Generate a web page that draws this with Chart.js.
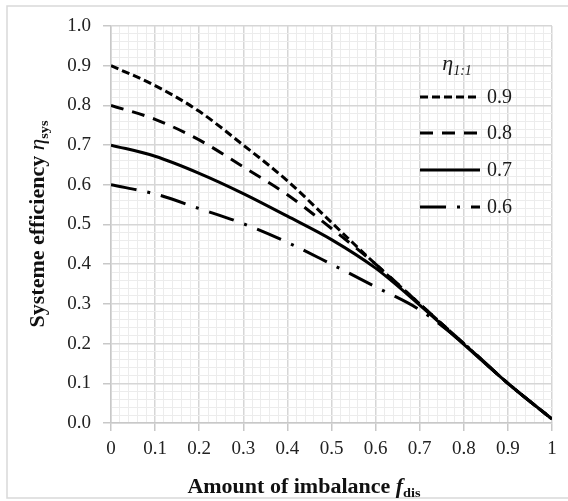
<!DOCTYPE html>
<html lang="en">
<head>
<meta charset="UTF-8" />
<title>Systeme efficiency</title>
<script src="https://cdn.jsdelivr.net/npm/chart.js"></script>
<style>
    body { margin: 0; background: #fff; }
    #wrap { width: 568px; height: 501px; }
</style>
</head>
<body>
<div id="wrap"><canvas id="grafico"></canvas></div>

<script>
    // values
    const fDis = [0, 0.1, 0.2, 0.3, 0.4, 0.5, 0.6, 0.7, 0.8, 0.9, 1.0];
    const eta09 = [0.90, 0.85, 0.785, 0.70, 0.61, 0.505, 0.40, 0.30, 0.20, 0.10, 0.01];
    const eta08 = [0.80, 0.765, 0.713, 0.645, 0.575, 0.49, 0.40, 0.30, 0.20, 0.10, 0.01];
    const eta07 = [0.70, 0.672, 0.629, 0.578, 0.521, 0.462, 0.39, 0.297, 0.198, 0.10, 0.01];
    const eta06 = [0.60, 0.577, 0.54, 0.502, 0.455, 0.40, 0.343, 0.285, 0.20, 0.10, 0.01];

    const seriesNames = ['0.9', '0.8', '0.7', '0.6'];
    const xTickLabels = ['0', '0.1', '0.2', '0.3', '0.4', '0.5', '0.6', '0.7', '0.8', '0.9', '1'];
    const yTickLabels = ['0.0', '0.1', '0.2', '0.3', '0.4', '0.5', '0.6', '0.7', '0.8', '0.9', '1.0'];

    const SERIF = "'Liberation Serif', serif";

    function pts(ys) {
        return fDis.map(function (x, i) { return { x: x, y: ys[i] }; });
    }

    function isMajor(v) {
        return Math.round(v * 100) % 10 === 0;
    }

    const dashes = [[8, 4], [13, 9], [], [26, 11, 3, 11]];
    const allSeries = [eta09, eta08, eta07, eta06];

    const datasets = allSeries.map(function (ys, i) {
        return {
            label: seriesNames[i],
            data: pts(ys),
            borderColor: '#000',
            borderWidth: 3,
            borderDash: dashes[i],
            pointRadius: 0,
            fill: false,
            cubicInterpolationMode: 'monotone'
        };
    });

    // draw several text pieces in a row (for subscripts)
    function drawParts(ctx, parts, cx, baseY, stretch) {
        let w = 0;
        parts.forEach(function (p) {
            ctx.font = p.font;
            w += ctx.measureText(p.text).width;
        });
        ctx.save();
        ctx.translate(cx, baseY);
        ctx.scale(stretch, 1);
        let x = -w / 2;
        ctx.textAlign = 'left';
        ctx.textBaseline = 'alphabetic';
        parts.forEach(function (p) {
            ctx.font = p.font;
            ctx.fillText(p.text, x, p.dy || 0);
            x += ctx.measureText(p.text).width;
        });
        ctx.restore();
    }

    const decor = {
        id: 'decor',
        beforeDraw(chart) {
            const ctx = chart.ctx;
            ctx.save();
            ctx.fillStyle = '#fff';
            ctx.fillRect(0, 0, chart.width, chart.height);
            ctx.strokeStyle = '#d9d9d9';
            ctx.lineWidth = 1.5;
            ctx.strokeRect(7, 6, 575, 492);
            ctx.restore();
        },
        afterDraw(chart) {
            const ctx = chart.ctx;
            ctx.save();
            ctx.fillStyle = '#111';

            // x title
            drawParts(ctx, [
                { text: 'Amount of imbalance ', font: 'bold 20px ' + SERIF },
                { text: 'f', font: 'italic bold 20px ' + SERIF },
                { text: 'dis', font: 'bold 13px ' + SERIF, dy: 4 }
            ], 304, 493, 1.1);

            // y title
            ctx.save();
            ctx.translate(44, 224);
            ctx.rotate(-Math.PI / 2);
            drawParts(ctx, [
                { text: 'Systeme efficiency ', font: 'bold 20px ' + SERIF },
                { text: 'η', font: 'italic 21px ' + SERIF },
                { text: 'sys', font: 'bold 13px ' + SERIF, dy: 4 }
            ], 0, 0, 1.1);
            ctx.restore();

            // legend
            ctx.fillStyle = '#1a1a1a';
            drawParts(ctx, [
                { text: 'η', font: 'italic 22px ' + SERIF },
                { text: '1:1', font: 'italic 14px ' + SERIF, dy: 5 }
            ], 457, 70, 1);

            const rowY = [97, 133, 170, 207];
            chart.data.datasets.forEach(function (ds, i) {
                ctx.save();
                ctx.strokeStyle = ds.borderColor;
                ctx.lineWidth = ds.borderWidth;
                ctx.setLineDash(ds.borderDash);
                ctx.beginPath();
                ctx.moveTo(420, rowY[i]);
                ctx.lineTo(480, rowY[i]);
                ctx.stroke();
                ctx.restore();
                ctx.font = '20px ' + SERIF;
                ctx.textAlign = 'left';
                ctx.textBaseline = 'middle';
                ctx.fillText(ds.label, 487, rowY[i] + 1);
            });
            ctx.restore();
        }
    };

    function gridOpts() {
        return {
            color: function (c) { return isMajor(c.tick.value) ? '#d6d6d6' : '#ececec'; },
            lineWidth: function (c) { return isMajor(c.tick.value) ? 1.5 : 1; },
            tickColor: function (c) { return isMajor(c.tick.value) ? '#c8c8c8' : 'rgba(0,0,0,0)'; },
            tickLength: 8
        };
    }

    const config = {
        type: 'line',
        data: { datasets: datasets },
        plugins: [decor],
        options: {
            responsive: true,
            maintainAspectRatio: false,
            animation: false,
            layout: { padding: { top: 26, right: 16, bottom: 0, left: 0 } },
            plugins: {
                legend: { display: false },
                tooltip: { enabled: false }
            },
            scales: {
                x: {
                    type: 'linear',
                    min: 0,
                    max: 1,
                    grid: gridOpts(),
                    border: { color: '#c8c8c8', width: 1.5 },
                    ticks: {
                        stepSize: 0.02,
                        maxTicksLimit: 60,
                        autoSkip: false,
                        maxRotation: 0,
                        padding: 7,
                        color: '#222',
                        font: { family: SERIF, size: 19 },
                        callback: function (v) {
                            return isMajor(v) ? xTickLabels[Math.round(v * 10)] : '';
                        }
                    },
                    afterFit: function (s) { s.height = 78; }
                },
                y: {
                    min: 0,
                    max: 1,
                    grid: gridOpts(),
                    border: { color: '#c8c8c8', width: 1.5 },
                    ticks: {
                        stepSize: 0.02,
                        maxTicksLimit: 60,
                        autoSkip: false,
                        padding: 12,
                        color: '#222',
                        font: { family: SERIF, size: 19 },
                        callback: function (v) {
                            return isMajor(v) ? yTickLabels[Math.round(v * 10)] : '';
                        }
                    },
                    afterFit: function (s) { s.width = 111; }
                }
            }
        }
    };

    const myChart = new Chart(document.getElementById('grafico'), config);
</script>
</body>
</html>
